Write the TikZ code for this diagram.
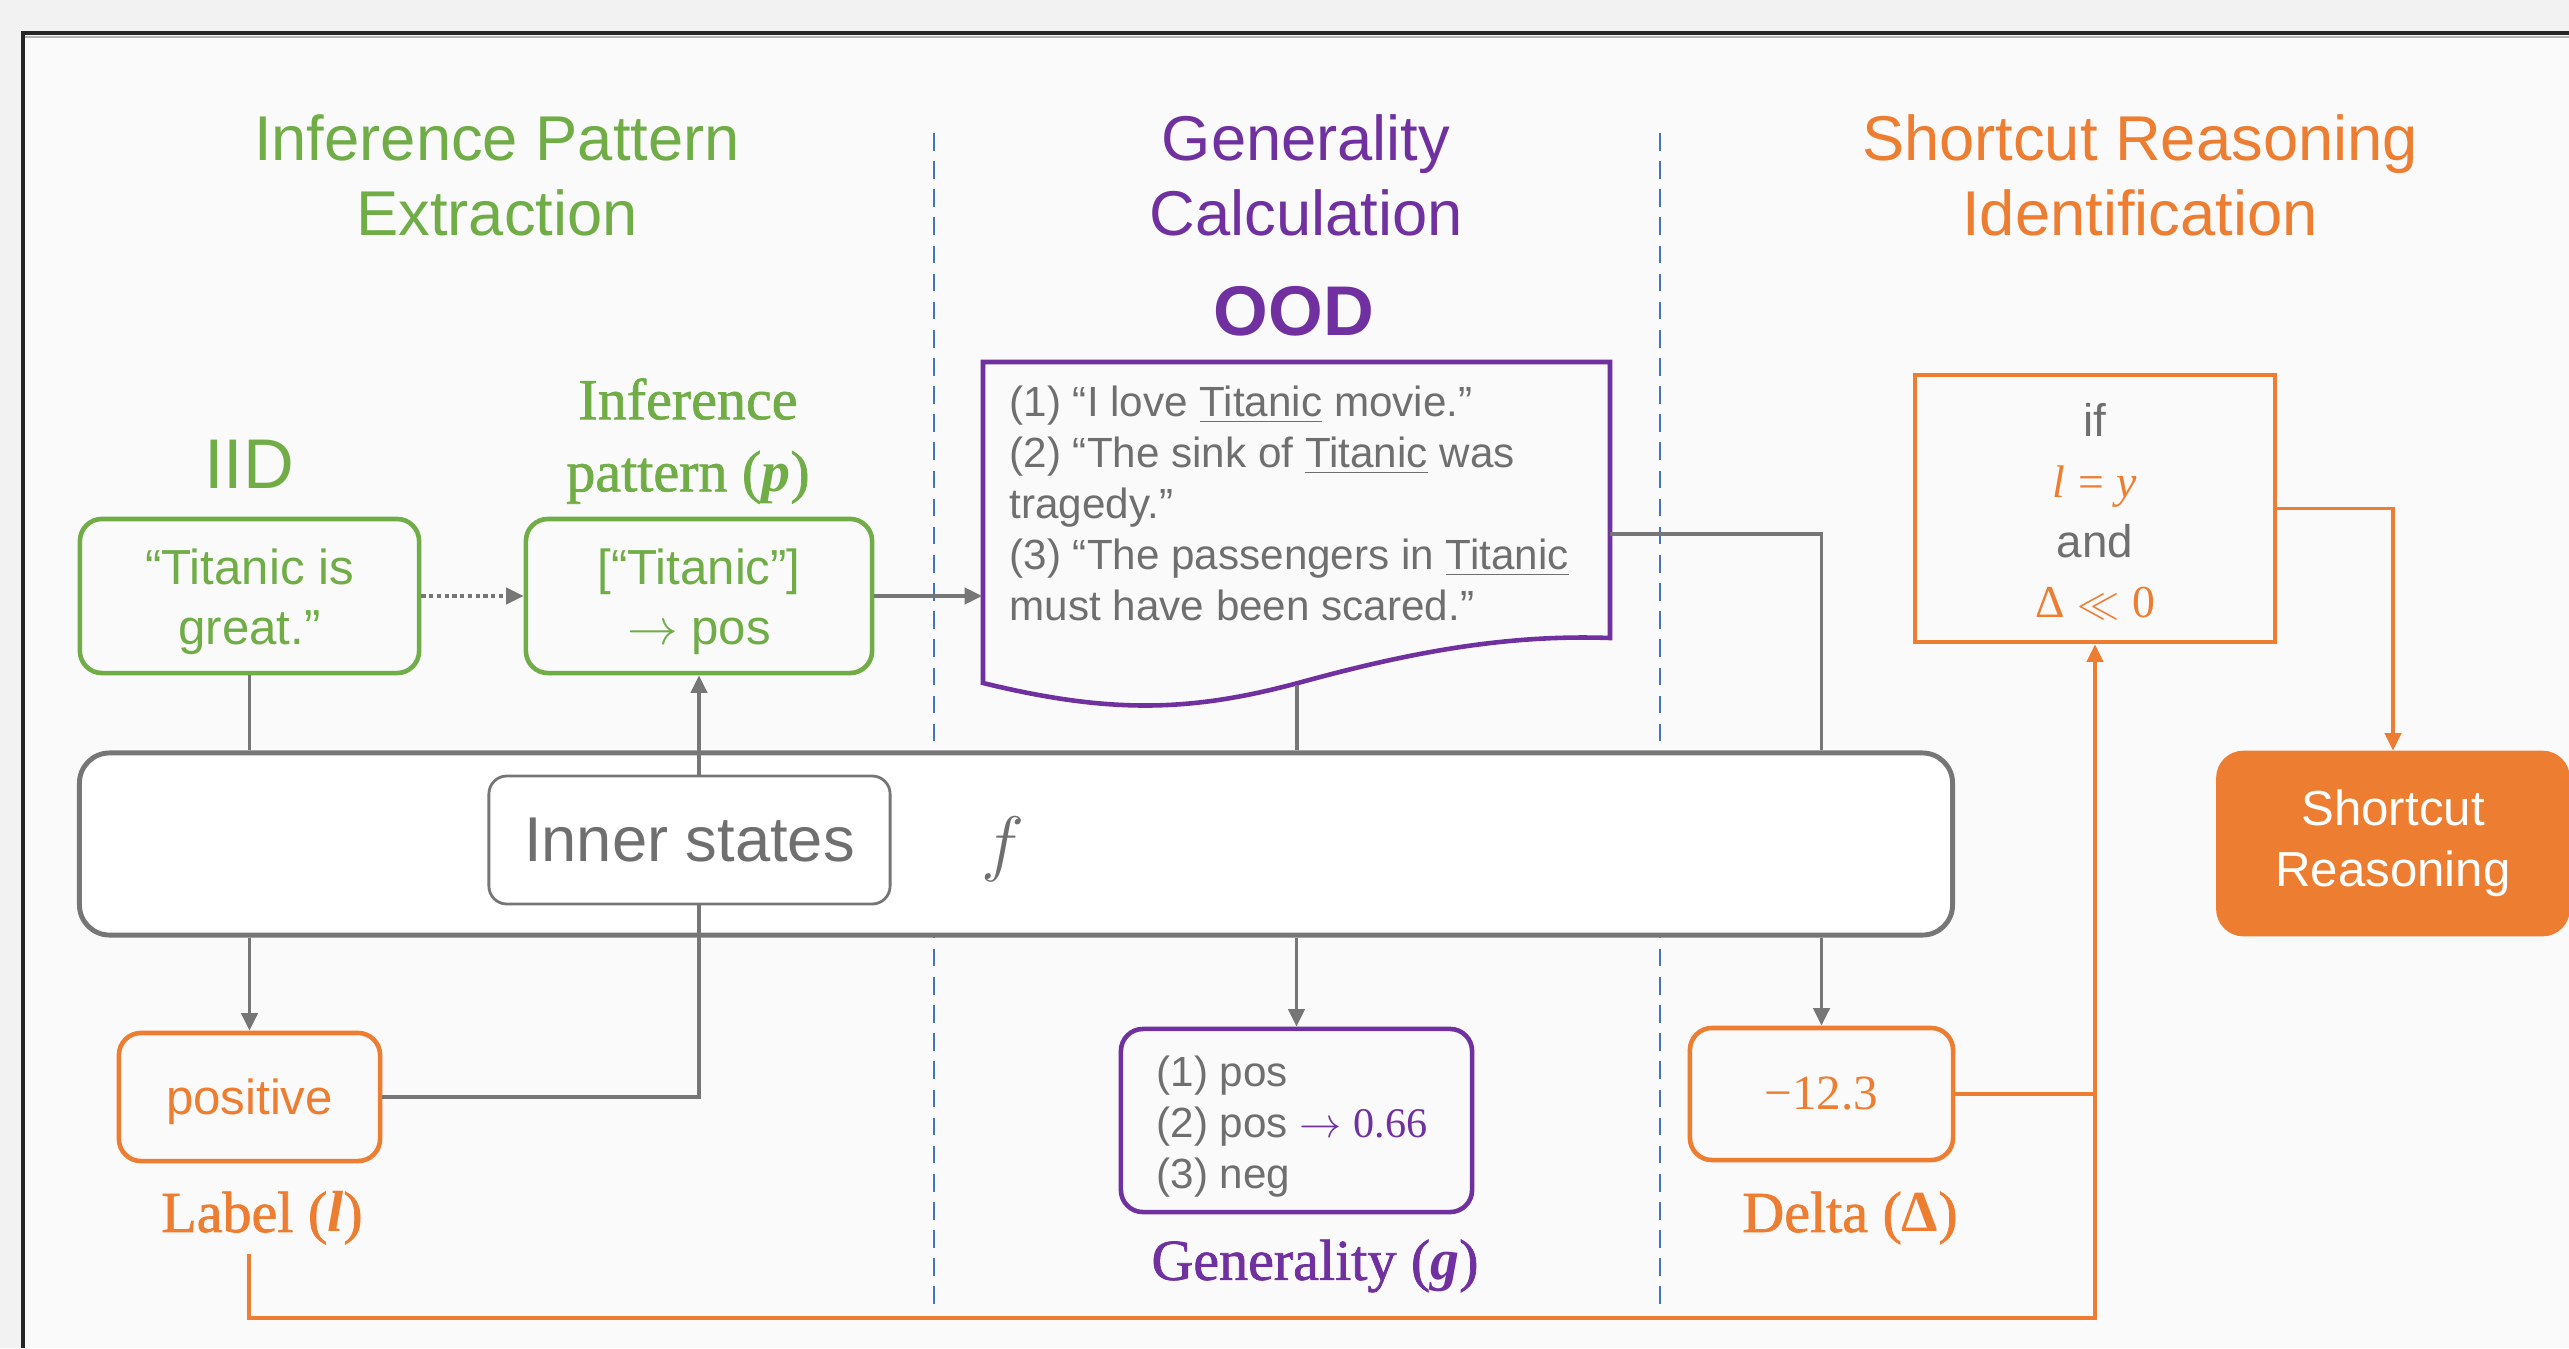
\documentclass[tikz,border=0pt]{standalone}
\usepackage{fontspec}
\setmainfont{Liberation Sans}
\newfontfamily\serifL{Liberation Serif}
\newfontfamily\serifM[FakeBold=1.2]{Liberation Serif}
\usetikzlibrary{arrows.meta,calc}
\definecolor{cgreen}{HTML}{70AD47}
\definecolor{cpurple}{HTML}{7030A0}
\definecolor{corange}{HTML}{ED7D31}
\definecolor{cline}{HTML}{767676}
\definecolor{ctext}{HTML}{6F6F6F}
\definecolor{cdash}{HTML}{4472C4}
\definecolor{cbg}{HTML}{FAFAFA}
\definecolor{cout}{HTML}{F2F2F2}
\newcommand{\bv}[1]{{\serifL\bfseries\itshape #1}}
\newcommand{\iv}[1]{{\serifL\itshape #1}}
\begin{document}
\begin{tikzpicture}[x=0.01cm,y=-0.01cm,
  tip/.style={-{Triangle[length=5pt,width=4.6pt]}},
  conn/.style={draw=cline,line width=1.1pt},
  oconn/.style={draw=corange,line width=1.1pt},
  rbox/.style={rectangle,rounded corners=0.22cm,line width=1.3pt,inner sep=0pt,align=center},
  title/.style={font=\fontsize{18}{21.3}\selectfont,align=center},
  lab/.style={font=\serifM\fontsize{16.5}{20.5}\selectfont,align=center},
  body/.style={font=\fontsize{14}{17}\selectfont},
  small/.style={font=\fontsize{12}{14.5}\selectfont,text=ctext,align=left,inner sep=0pt,anchor=west},
  sep/.style={draw=cdash,line width=0.8pt,dash pattern=on 5pt off 3pt}]
\useasboundingbox (0,0) rectangle (2569,1348);
% background
\fill[cout] (0,0) rectangle (2569,1348);
\fill[cbg] (23,33) rectangle (2569,1348);
\draw[gray!60,line width=0.8pt] (24,37) -- (2569,37);
\draw[black!85,line width=1pt] (23,1348) -- (23,33) -- (2569,33);
% separators
\draw[sep] (934,133) -- (934,1305);
\draw[sep] (1660,133) -- (1660,1305);
% titles
\node[title,text=cgreen] (t1) at (497,175) {Inference Pattern\\Extraction};
\node[title,text=cpurple] (t2) at (1306,175) {Generality\\Calculation};
\node[title,text=corange] (t3) at (2140,175) {Shortcut Reasoning\\Identification};
\node[text=cgreen,font=\fontsize{20}{24}\selectfont] (iid) at (249,464) {IID};
\node[text=cpurple,font=\bfseries\fontsize{20}{24}\selectfont] (ood) at (1294,311) {OOD};
% IID boxes
\node[rbox,draw=cgreen,minimum width=3.39cm,minimum height=1.54cm] (s1) at (249.5,596) {};
\node[body,text=cgreen,align=center,inner sep=0pt] (s1t) at ($(s1.center)+(0,6)$) {“Titanic is\\great.”};
\node[rbox,draw=cgreen,minimum width=3.46cm,minimum height=1.54cm] (pat) at (699,596) {};
\node[body,text=cgreen,align=center,inner sep=0pt] (patt) at ($(pat.center)+(0,6)$) {[“Titanic”]\\$\rightarrow$ pos};
\node[lab,text=cgreen] (patlbl) at (688,441) {Inference\\pattern (\bv{p})};
% OOD document
\node[inner sep=0pt,minimum width=6.27cm,minimum height=3.21cm] (doc) at (1296.5,522.5) {};
\draw[cpurple,line width=1.3pt] (983,683) -- (983,362) -- (1610,362) -- (1610,638)
  .. controls (1500,634) and (1400,655) .. (1298,683)
  .. controls (1190,712) and (1110,714) .. (983,683) -- cycle;
\node[small] (doctext) at (1009,503) {(1) “I love \underline{Titanic} movie.”\\(2) “The sink of \underline{Titanic} was\\tragedy.”\\(3) “The passengers in \underline{Titanic}\\must have been scared.”};
\coordinate (docb) at (1297,685);
\coordinate (docr) at (1610,534);
% model
\node[rbox,draw=cline,fill=white,line width=1.4pt,rounded corners=0.3cm,minimum width=18.72cm,minimum height=1.82cm] (big) at (1016,844) {};
\node[rbox,draw=cline,line width=0.8pt,rounded corners=0.18cm,minimum width=4.01cm,minimum height=1.28cm,text=ctext,font=\fontsize{18}{21}\selectfont] (inner) at (689.5,840) {Inner states};
\node[text=ctext,font=\fontsize{20}{24}\selectfont] (f) at (1003,849) {$f$};
% outputs
\node[rbox,draw=corange,text=corange,body,text depth=0pt,minimum width=2.61cm,minimum height=1.28cm] (pos) at (249.5,1097) {positive};
\node[lab,text=corange] (lbl) at (262,1218) {Label (\bv{l})};
\coordinate (lblb) at (249,1254);
\node[rbox,draw=cpurple,minimum width=3.51cm,minimum height=1.83cm] (gen) at (1296.5,1120.5) {};
\node[small] (gentext) at (1156,1127) {(1) pos\\(2) pos \textcolor{cpurple}{$\rightarrow$ {\serifL 0.66}}\\(3) neg};
\node[lab,text=cpurple] (glbl) at (1315,1266) {Generality (\bv{g})};
\node[rbox,draw=corange,text=corange,font=\serifL\fontsize{14}{17}\selectfont,minimum width=2.63cm,minimum height=1.32cm] (delta) at (1821.5,1094) {−12.3};
\node[lab,text=corange] (dlbl) at (1850,1218) {Delta ({\serifL\bfseries Δ})};
% identification
\node[rectangle,draw=corange,line width=1.3pt,minimum width=3.6cm,minimum height=2.67cm] (ifb) at (2095,508.5) {};
\node[align=center,text=ctext,inner sep=0pt,font=\fontsize{13}{17.2}\selectfont] (ift) at ($(ifb.center)+(0,3)$) {if\\\textcolor{corange}{\iv{l} {\serifL=} \iv{y}}\\and\\\textcolor{corange}{{\serifL Δ} $\ll$ {\serifL 0}}};
\node[rbox,fill=corange,draw=corange,text=white,rounded corners=0.25cm,minimum width=3.49cm,minimum height=1.81cm,font=\fontsize{14}{17.4}\selectfont] (sr) at (2393,843.5) {Shortcut\\Reasoning};
\coordinate (jn) at (2095,1318);
% connectors
\draw[conn] (s1.south) -- (s1.south |- big.north);
\draw[conn,tip] (pos.north |- big.south) -- (pos.north);
\draw[conn,tip,dash pattern=on 1.2pt off 1pt] (s1.east) -- (pat.west);
\draw[conn,tip] (pat.east) -- (pat.east -| doc.west);
\draw[conn,tip] (inner.north -| pat.south) -- (pat.south);
\draw[conn] (pos.east) -| (inner.south -| pat.south);
\draw[conn] (docb) -- (docb |- big.north);
\draw[conn,tip] (gen.north |- big.south) -- (gen.north);
\draw[conn] (docr) -| (delta.north |- big.north);
\draw[conn,tip] (delta.north |- big.south) -- (delta.north);
\draw[oconn] (delta.east) -- (delta.east -| ifb.south);
\draw[oconn,tip] (lblb) |- (jn) -- (ifb.south);
\draw[oconn,tip] (ifb.east) -| (sr.north);
\end{tikzpicture}
\end{document}
